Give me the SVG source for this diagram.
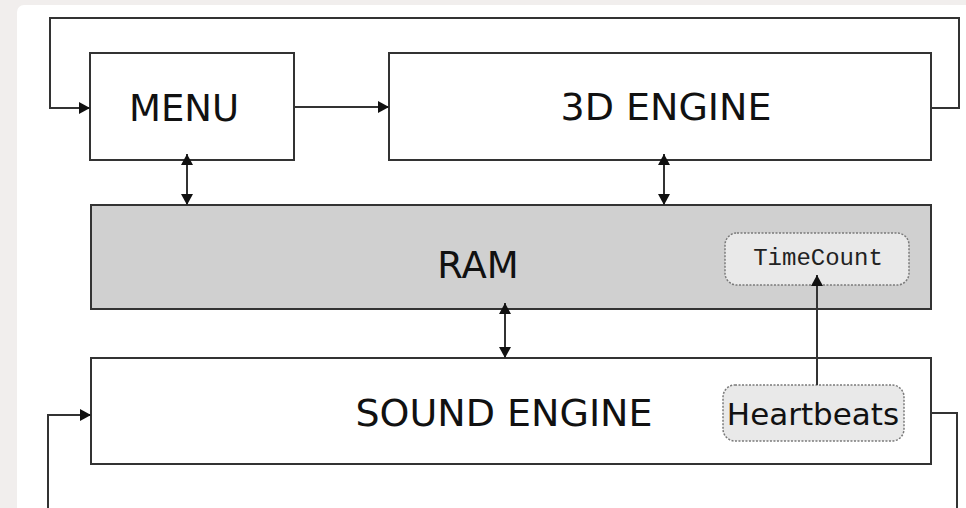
<svg xmlns="http://www.w3.org/2000/svg" width="966" height="508" viewBox="0 0 966 508">
  <style>
    .box { fill: #ffffff; stroke: #333333; stroke-width: 2; }
    .ram { fill: #d0d0d0; stroke: #333333; stroke-width: 2; }
    .tag { fill: #e9e9e9; stroke: #7a7a7a; stroke-width: 1.5; stroke-dasharray: 2 1.5; }
    .lbl { font-family: "DejaVu Sans", Verdana, sans-serif; font-size: 37px; fill: #111111; text-anchor: middle; }
    .mono { font-family: "Liberation Mono", "Courier New", monospace; font-size: 24px; fill: #222222; text-anchor: middle; }
    .wire { fill: none; stroke: #333333; stroke-width: 2; }
  </style>
  <defs>
    <marker id="tip" viewBox="0 0 11 12" refX="11" refY="6" markerWidth="11" markerHeight="12" markerUnits="userSpaceOnUse" orient="auto-start-reverse">
      <path d="M0,0 L11,6 L0,12 Z" fill="#111111"/>
    </marker>
  </defs>

  <!-- page background and panel -->
  <rect x="0" y="0" width="966" height="508" fill="#f1eeed"/>
  <rect x="17" y="5" width="960" height="520" rx="7" fill="#ffffff"/>

  <g id="menu">
    <rect class="box" x="90" y="53" width="204" height="107"/>
    <text class="lbl" x="184" y="121">MENU</text>
  </g>

  <g id="engine3d">
    <rect class="box" x="389" y="53" width="542" height="107"/>
    <text class="lbl" x="666" y="120" style="font-size:38px">3D ENGINE</text>
  </g>

  <g id="ram">
    <rect class="ram" x="91" y="205" width="840" height="104"/>
    <text class="lbl" x="478" y="278">RAM</text>
  </g>

  <g id="timecount">
    <rect class="tag" x="725" y="233" width="184" height="52" rx="12"/>
    <text class="mono" x="818" y="265">TimeCount</text>
  </g>

  <g id="sound">
    <rect class="box" x="91" y="358" width="840" height="106"/>
    <text class="lbl" x="504" y="426" style="font-size:38px">SOUND ENGINE</text>
  </g>

  <g id="heartbeats">
    <rect class="tag" x="723" y="385" width="181" height="56" rx="12"/>
    <text class="lbl" x="813" y="425" style="font-size:31px">Heartbeats</text>
  </g>

  <g id="connectors">
    <!-- outer loop back into MENU -->
    <path class="wire" d="M931,108 H959 V18 H50 V108 H90" marker-end="url(#tip)"/>
    <!-- MENU to 3D ENGINE -->
    <path class="wire" d="M294,107 H389" marker-end="url(#tip)"/>
    <!-- MENU <-> RAM -->
    <path class="wire" d="M187,154 V205" marker-start="url(#tip)" marker-end="url(#tip)"/>
    <!-- 3D ENGINE <-> RAM -->
    <path class="wire" d="M664,154 V205" marker-start="url(#tip)" marker-end="url(#tip)"/>
    <!-- RAM <-> SOUND ENGINE -->
    <path class="wire" d="M505,303 V358" marker-start="url(#tip)" marker-end="url(#tip)"/>
    <!-- Heartbeats to TimeCount -->
    <path class="wire" d="M817,385 V275" marker-end="url(#tip)"/>
    <!-- sound engine loop -->
    <path class="wire" d="M931,413 H957 V530 H48 V415 H91" marker-end="url(#tip)"/>
  </g>
</svg>
